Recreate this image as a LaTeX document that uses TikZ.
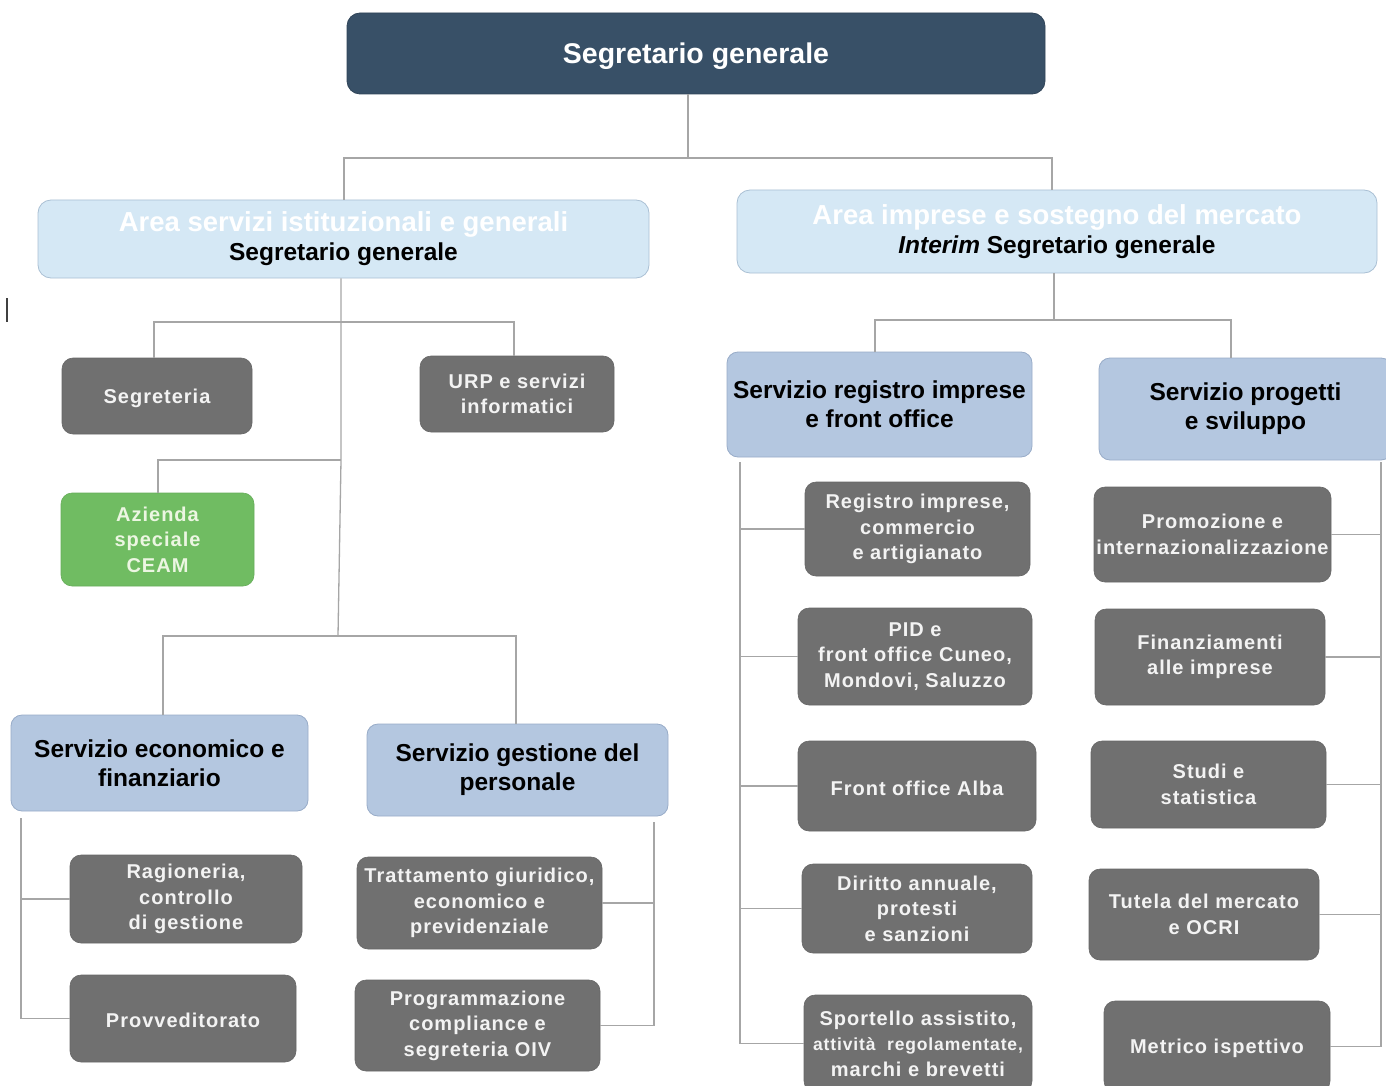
\documentclass[tikz,border=0pt]{standalone}
\usepackage{fontspec}
\setmainfont{Liberation Sans}
\definecolor{topblue}{RGB}{56,80,103}
\definecolor{arealight}{RGB}{213,232,245}
\definecolor{areaedge}{RGB}{170,192,212}
\definecolor{servblue}{RGB}{180,199,224}
\definecolor{servedge}{RGB}{152,172,200}
\definecolor{boxgray}{RGB}{112,112,112}
\definecolor{graytext}{RGB}{243,243,243}
\definecolor{boxgreen}{RGB}{112,188,98}
\definecolor{greentext}{RGB}{236,246,226}
\definecolor{linegray}{RGB}{166,166,166}
\newcommand\graytxt{\bfseries\fontsize{20}{25.5}\selectfont\addfontfeature{LetterSpace=5}}
\newcommand\servtxt{\bfseries\fontsize{24.5}{29}\selectfont}
\begin{document}
\begin{tikzpicture}[x=1pt,y=-1pt,
  box/.style={rounded corners=11pt, inner sep=0pt, align=center},
  graybox/.style={box, fill=boxgray, draw=boxgray!92!black, line width=0.6pt, text=graytext, font=\graytxt,
    execute at begin node={\rule{0pt}{18.5pt}}},
  greenbox/.style={box, fill=boxgreen, draw=boxgreen!92!black, line width=0.6pt, text=greentext, font=\graytxt,
    execute at begin node={\rule{0pt}{18.5pt}}},
  servbox/.style={box, fill=servblue, draw=servedge, line width=0.8pt, text=black, font=\servtxt},
  areabox/.style={box, rounded corners=13pt, fill=arealight, draw=areaedge, line width=0.8pt, text=black, font=\servtxt,
    execute at begin node={\rule{0pt}{28pt}}},
  topbox/.style={box, rounded corners=13pt, fill=topblue, draw=topblue!85!black, line width=0.8pt, text=white, font=\bfseries\fontsize{28.5}{34}\selectfont,
    execute at begin node={\rule{0pt}{27pt}}},
  conn/.style={draw=linegray, line width=1.3pt},
]
\useasboundingbox (0,0) rectangle (1386,1086);
\clip (0,0) rectangle (1386,1086);
\fill[white] (0,0) rectangle (1386,1086);

% ---------- top ----------
\node[topbox, minimum width=698pt, minimum height=81pt] (top) at (696,53.5) {Segretario generale};

\node[areabox, minimum width=611pt, minimum height=78pt] (areaL) at (343.5,239)
  {{\color{white}\fontsize{27.5}{29}\selectfont Area servizi istituzionali e generali}\\Segretario generale};
\node[areabox, minimum width=640pt, minimum height=83pt] (areaR) at (1057,231.5)
  {{\color{white}\fontsize{27.5}{30}\selectfont Area imprese e sostegno del mercato}\\\textit{Interim} Segretario generale};

% ---------- left area ----------
\node[graybox, minimum width=190pt, minimum height=76pt] (segr) at (157,396) {Segreteria};
\node[graybox, minimum width=194pt, minimum height=76pt] (urp) at (517,394) {URP e servizi\\informatici};
\node[greenbox, minimum width=193pt, minimum height=93pt] (azi) at (157.5,539.5) {Azienda\\speciale\\CEAM};

\node[servbox, minimum width=297pt, minimum height=96pt] (seco) at (159.5,763) {Servizio economico e\\finanziario};
\node[servbox, minimum width=301pt, minimum height=92pt] (sges) at (517.5,770) {Servizio gestione del\\personale};

\node[graybox, minimum width=232pt, minimum height=88pt] (rag) at (186,899) {Ragioneria,\\controllo\\di gestione};
\node[graybox, minimum width=226pt, minimum height=87pt] (prov) at (183,1018.5) {Provveditorato};
\node[graybox, minimum width=245pt, minimum height=92pt] (tratt) at (479.5,903) {Trattamento giuridico,\\economico e\\previdenziale};
\node[graybox, minimum width=245pt, minimum height=91pt] (prog) at (477.5,1025.5) {Programmazione\\compliance e\\segreteria OIV};

% ---------- right area ----------
\node[servbox, minimum width=305pt, minimum height=105pt] (sreg) at (879.5,404.5) {Servizio registro imprese\\e front office};
\node[servbox, minimum width=293pt, minimum height=102pt] (sprog) at (1245.5,409) {Servizio progetti\\e sviluppo};

\node[graybox, minimum width=225pt, minimum height=94pt] (regi) at (917.5,529) {Registro imprese,\\commercio\\e artigianato};
\node[graybox, minimum width=234pt, minimum height=97pt] (pid) at (915,656.5) {PID e\\front office Cuneo,\\Mondovi, Saluzzo};
\node[graybox, minimum width=238pt, minimum height=90pt] (alba) at (917,786) {Front office Alba};
\node[graybox, minimum width=230pt, minimum height=89pt] (dir) at (917,908.5) {Diritto annuale,\\protesti\\e sanzioni};
\node[graybox, minimum width=228pt, minimum height=97pt] (sport) at (918,1043.5)
  {Sportello assistito,\\{\fontsize{17.5}{24}\selectfont attività~ regolamentate,}\\marchi e brevetti};

\node[graybox, minimum width=237pt, minimum height=95pt] (promo) at (1212.5,534.5) {Promozione e\\internazionalizzazione};
\node[graybox, minimum width=230pt, minimum height=96pt] (fin) at (1210,657) {Finanziamenti\\alle imprese};
\node[graybox, minimum width=235pt, minimum height=87pt] (studi) at (1208.5,784.5) {Studi e\\statistica};
\node[graybox, minimum width=230pt, minimum height=91pt] (tut) at (1204,914.5) {Tutela del mercato\\e OCRI};
\node[graybox, minimum width=226pt, minimum height=91pt] (metr) at (1217,1046.5) {Metrico ispettivo};

% ---------- junction coordinates ----------
\coordinate (j0) at (688,158);
\coordinate (jL) at (344,158);
\coordinate (jR) at (1052,158);
\coordinate (l1) at (341,322);
\coordinate (l2) at (341,460);
\coordinate (l3) at (338,636);
\coordinate (xsegr) at (154,0);
\coordinate (xurp) at (514,0);
\coordinate (xazi) at (158,0);
\coordinate (xseco) at (163,0);
\coordinate (xsges) at (516,0);
\coordinate (bL) at (21,818);
\coordinate (bG) at (654,822);
\coordinate (r0) at (1054,320);
\coordinate (xsreg) at (875,0);
\coordinate (xsprog) at (1231,0);
\coordinate (bR1) at (740,462);
\coordinate (bR2) at (1381,462);

% ---------- connectors ----------
\draw[conn] (top.south -| j0) -- (j0);
\draw[conn] (areaL.north -| jL) |- (j0) -| (areaR.north -| jR);

\draw[conn] (areaL.south -| l1) -- (l1) -- (l2) -- (l3);
\draw[conn] (segr.north -| xsegr) |- (l1) -| (urp.north -| xurp);
\draw[conn] (azi.north -| xazi) |- (l2);
\draw[conn] (seco.north -| xseco) |- (l3) -| (sges.north -| xsges);

\draw[conn] (bL) |- (prov.west);
\draw[conn] (bL |- rag.west) -- (rag.west);
\draw[conn] (bG) |- (prog.east);
\draw[conn] (bG |- tratt.east) -- (tratt.east);

\draw[conn] (areaR.south -| r0) -- (r0);
\draw[conn] (sreg.north -| xsreg) |- (r0) -| (sprog.north -| xsprog);

\draw[conn] (bR1) |- (sport.west);
\draw[conn] (bR1 |- regi.west) -- (regi.west);
\draw[conn] (bR1 |- pid.west) -- (pid.west);
\draw[conn] (bR1 |- alba.west) -- (alba.west);
\draw[conn] (bR1 |- dir.west) -- (dir.west);

\draw[conn] (bR2) |- (metr.east);
\draw[conn] (bR2 |- promo.east) -- (promo.east);
\draw[conn] (bR2 |- fin.east) -- (fin.east);
\draw[conn] (bR2 |- studi.east) -- (studi.east);
\draw[conn] (bR2 |- tut.east) -- (tut.east);

% stray mark at left edge
\draw[draw=black!75, line width=1.6pt] (7,298) -- (7,322);
\end{tikzpicture}
\end{document}
